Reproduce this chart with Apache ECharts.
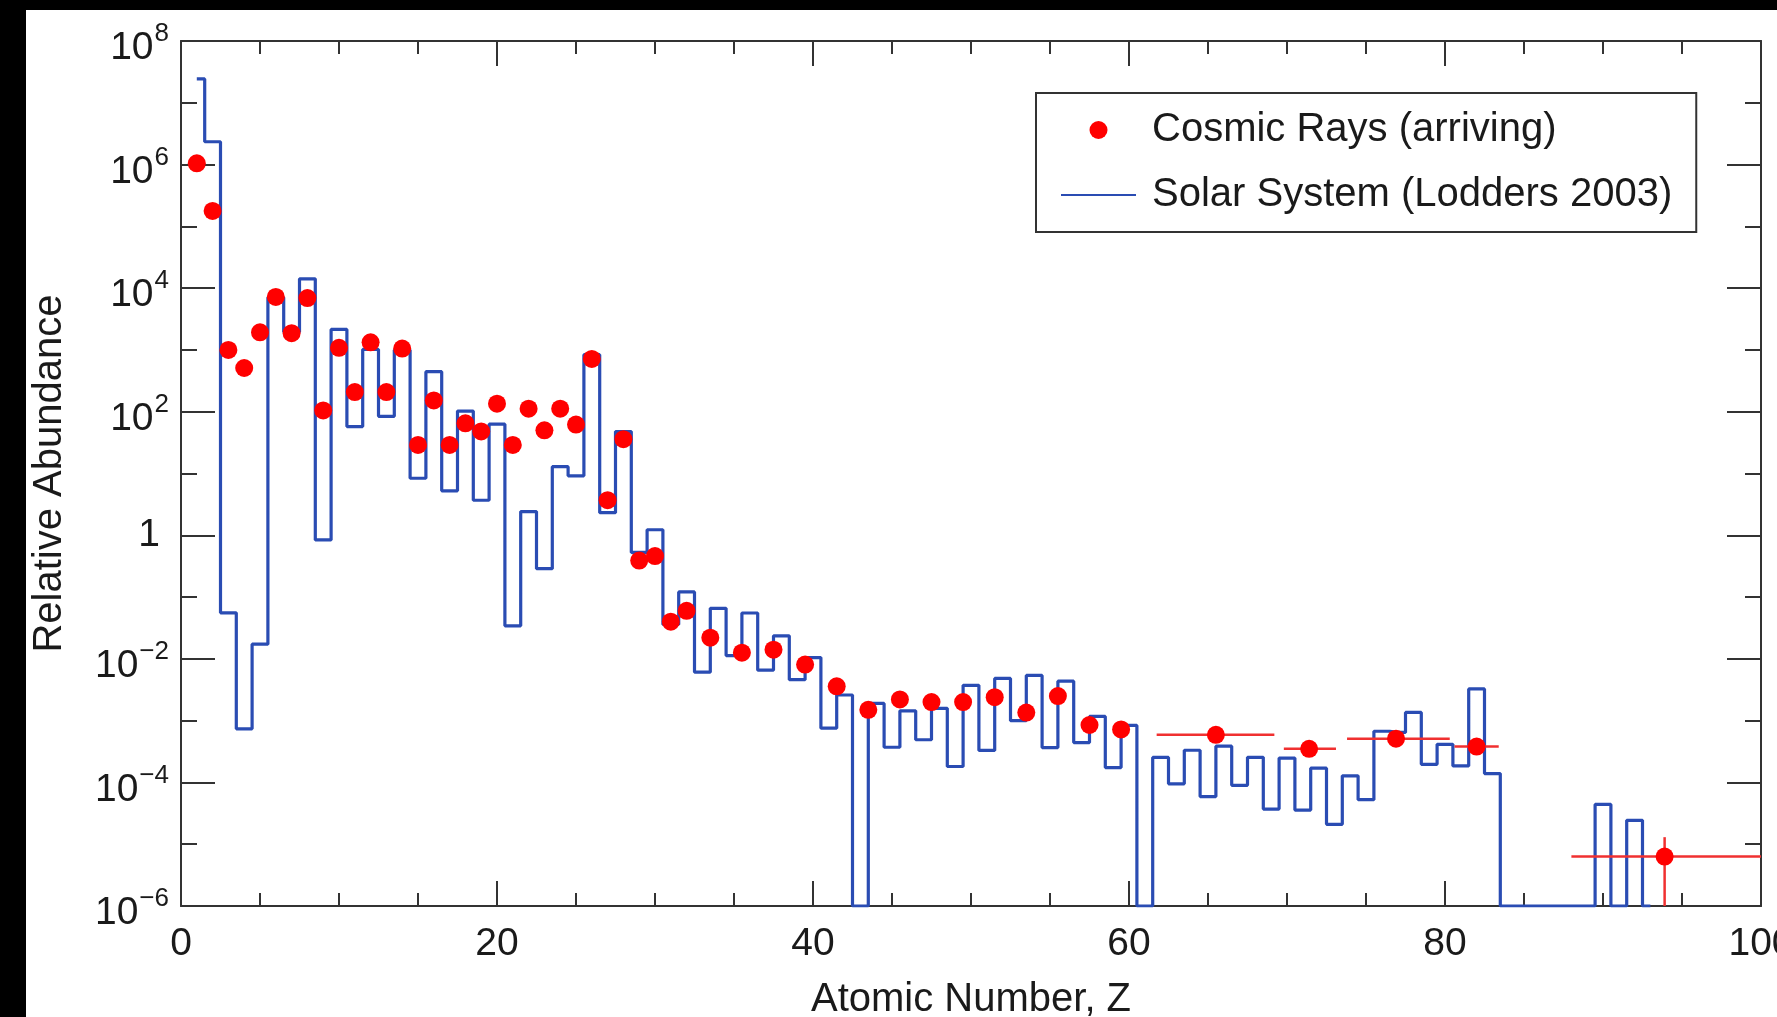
<!DOCTYPE html>
<html>
<head>
<meta charset="utf-8">
<script src="https://cdn.jsdelivr.net/npm/echarts@6/dist/echarts.min.js"></script>
<style>
  html, body { margin: 0; padding: 0; background: #000; width: 1777px; height: 1017px; overflow: hidden; }
  #chart { position: absolute; left: 26px; top: 10px; width: 1751px; height: 1007px; background: #fff; }
</style>
</head>
<body>
<div id="chart"></div>
<script>
// solar system abundances (Lodders 2003), Si = 1000, stepped per element
const solarZ = [
  1, 2, 3, 4, 5, 6, 7, 8, 9, 10, 11, 12, 13, 14, 15, 16, 17, 18, 19, 20,
  21, 22, 23, 24, 25, 26, 27, 28, 29, 30, 31, 32, 33, 34, 35, 36, 37, 38, 39, 40,
  41, 42, 43, 44, 45, 46, 47, 48, 49, 50, 51, 52, 53, 54, 55, 56, 57, 58, 59, 60,
  61, 62, 63, 64, 65, 66, 67, 68, 69, 70, 71, 72, 73, 74, 75, 76, 77, 78, 79, 80,
  81, 82, 83, 84, 85, 86, 87, 88, 89, 90, 91, 92, 93
];
// elements with no abundance sit on the bottom of the axis (1e-6)
const solarAbund = [
  2.43e7, 2.34e6, 0.0555, 7.37e-4, 0.0173, 7079, 1950, 14130, 0.841, 2148,
  57.5, 1020, 84.1, 1000, 8.37, 445, 5.24, 102.5, 3.69, 62.9,
  0.0342, 2.42, 0.288, 12.9, 9.17, 838, 2.32, 47.8, 0.527, 1.23,
  0.036, 0.121, 0.00609, 0.0658, 0.0113, 0.0552, 0.00657, 0.0236, 0.00461, 0.0105,
  7.55e-4, 0.0026, 1e-6, 0.0019, 3.71e-4, 0.00144, 4.91e-4, 0.00158, 1.81e-4, 0.00373,
  3.29e-4, 0.00482, 9.98e-4, 0.00539, 3.67e-4, 0.00435, 4.41e-4, 0.00117, 1.74e-4, 8.36e-4,
  1e-6, 2.54e-4, 9.51e-5, 3.32e-4, 5.91e-5, 3.86e-4, 8.99e-5, 2.55e-4, 3.7e-5, 2.48e-4,
  3.57e-5, 1.7e-4, 2.1e-5, 1.28e-4, 5.25e-5, 6.74e-4, 6.45e-4, 0.00136, 1.96e-4, 4.13e-4,
  1.85e-4, 0.00326, 1.39e-4, 1e-6, 1e-6, 1e-6, 1e-6, 1e-6, 1e-6, 4.4e-5,
  1e-6, 2.44e-5, 1e-6
];

// cosmic rays (arriving)
const crZ = [
  1, 2, 3, 4, 5, 6, 7, 8, 9, 10, 11, 12, 13, 14, 15, 16, 17, 18, 19, 20,
  21, 22, 23, 24, 25, 26, 27, 28, 29, 30, 31, 32,
  33.5, 35.5, 37.5, 39.5, 41.5, 43.5, 45.5, 47.5, 49.5, 51.5, 53.5, 55.5, 57.5, 59.5,
  65.5, 71.4, 76.9, 82.0, 93.9
];
const crAbund = [
  1.05e6, 1.78e5, 1000, 510, 1930, 7200, 1870, 6900, 105, 1080,
  208, 1330, 208, 1050, 29, 152, 29, 65, 48, 135,
  29, 112, 50, 112, 62, 716, 3.7, 36, 0.39, 0.46, 0.040, 0.060,
  0.022, 0.0126, 0.0141, 0.0081, 0.0036, 0.0015, 0.0022, 0.0020, 0.0020, 0.0024,
  0.00135, 0.0025, 8.5e-4, 7.2e-4,
  5.9e-4, 3.5e-4, 5.1e-4, 3.8e-4, 6.3e-6
];
// horizontal error bars (charge ranges)
const crBarFrom = [61.75, 69.8, 73.8, 80.6, 88.0];
const crBarTo = [69.2, 73.1, 80.3, 83.4, 101];
const crBarAbund = [5.9e-4, 3.5e-4, 5.1e-4, 3.8e-4, 6.3e-6];
// vertical error bar on the last point
const crVBarZ = [93.9];
const crVBarLow = [1e-6];
const crVBarHigh = [1.3e-5];

const FONT = 'Liberation Sans';
const AXIS_COLOR = '#333';
const TEXT_COLOR = '#1a1a1a';

function powLabel(value) {
  const e = Math.round(Math.log10(value));
  if (e === 0) return '{one|1}';
  return '{b|10}{s|' + (e < 0 ? '\u2212' + (-e) : e) + '}';
}

const labelRich = {
  b: { fontSize: 39, fontFamily: FONT, color: TEXT_COLOR, padding: [15, 0, 0, 0] },
  s: { fontSize: 26, fontFamily: FONT, color: TEXT_COLOR, padding: [0, 0, 14, 1] },
  one: { fontSize: 39, fontFamily: FONT, color: TEXT_COLOR, padding: [0, 9, 0, 0] }
};

function xAxisOf(pos, withLabel) {
  return {
    type: 'value', position: pos, min: 0, max: 100, interval: 20,
    axisLine: { show: true, onZero: false, lineStyle: { color: AXIS_COLOR, width: 2 } },
    axisTick: { show: true, inside: true, length: 25, lineStyle: { color: AXIS_COLOR, width: 2 } },
    minorTick: { show: true, splitNumber: 4, length: 13, lineStyle: { color: AXIS_COLOR, width: 2 } },
    axisLabel: withLabel ? { show: true, fontSize: 39, fontFamily: FONT, color: TEXT_COLOR, margin: 19 } : { show: false },
    splitLine: { show: false },
    name: withLabel ? 'Atomic Number, Z' : '',
    nameLocation: 'middle', nameGap: 74,
    nameTextStyle: { fontSize: 40, fontFamily: FONT, color: TEXT_COLOR }
  };
}

function yAxisOf(pos, interval, tickLen, withLabel, withLine) {
  return {
    type: 'log', logBase: 10, position: pos, min: 1e-6, max: 1e8, interval: interval,
    axisLine: { show: withLine, lineStyle: { color: AXIS_COLOR, width: 2 } },
    axisTick: { show: true, inside: true, length: tickLen, lineStyle: { color: AXIS_COLOR, width: 2 } },
    axisLabel: withLabel ? { show: true, margin: 12, formatter: powLabel, rich: labelRich } : { show: false },
    splitLine: { show: false },
    name: withLabel ? 'Relative Abundance' : '',
    nameLocation: 'middle', nameGap: 111, nameRotate: 90,
    nameTextStyle: { fontSize: 40, fontFamily: FONT, color: TEXT_COLOR }
  };
}

const chart = echarts.init(document.getElementById('chart'));

const option = {
  animation: false,
  backgroundColor: '#fff',
  grid: { left: 155, right: 16, top: 31, bottom: 111, containLabel: false, outerBoundsMode: 'none' },
  legend: {
    orient: 'vertical', left: 1010, top: 83,
    itemWidth: 75, itemHeight: 18, itemGap: 19,
    padding: [14, 24, 14, 24],
    borderColor: AXIS_COLOR, borderWidth: 2, backgroundColor: '#fff',
    textStyle: { fontSize: 40, fontFamily: FONT, color: TEXT_COLOR, lineHeight: 46, padding: [0, 0, 0, 11] },
    data: [
      { name: 'Cosmic Rays (arriving)', icon: 'circle' },
      { name: 'Solar System (Lodders 2003)', itemStyle: { opacity: 0 } }
    ]
  },
  xAxis: [xAxisOf('bottom', true), xAxisOf('top', false)],
  yAxis: [
    yAxisOf('left', 2, 34, true, true),
    yAxisOf('left', 1, 16, false, false),
    yAxisOf('right', 2, 34, false, true),
    yAxisOf('right', 1, 16, false, false)
  ],
  series: [
    {
      name: 'Solar System (Lodders 2003)',
      type: 'line', step: 'middle',
      data: solarZ.map((z, i) => [z, solarAbund[i]]),
      symbol: 'none',
      lineStyle: { color: '#2a4cb3', width: 3.2 },
      itemStyle: { color: '#2a4cb3' },
      z: 2
    },
    {
      type: 'custom',
      encode: { x: [0, 1], y: 2 },
      data: crBarFrom.map((v, i) => [v, crBarTo[i], crBarAbund[i]]),
      renderItem: function (params, api) {
        const a = api.coord([api.value(0), api.value(2)]);
        const b = api.coord([api.value(1), api.value(2)]);
        return {
          type: 'line',
          shape: { x1: a[0], y1: a[1], x2: b[0], y2: b[1] },
          style: { stroke: '#f03030', lineWidth: 2.5 }
        };
      },
      clip: true, z: 3
    },
    {
      type: 'custom',
      encode: { x: 0, y: [1, 2] },
      data: crVBarZ.map((v, i) => [v, crVBarLow[i], crVBarHigh[i]]),
      renderItem: function (params, api) {
        const a = api.coord([api.value(0), api.value(1)]);
        const b = api.coord([api.value(0), api.value(2)]);
        return {
          type: 'line',
          shape: { x1: a[0], y1: a[1], x2: b[0], y2: b[1] },
          style: { stroke: '#f03030', lineWidth: 2.5 }
        };
      },
      clip: true, z: 3
    },
    {
      name: 'Cosmic Rays (arriving)',
      type: 'scatter',
      data: crZ.map((z, i) => [z, crAbund[i]]),
      symbol: 'circle', symbolSize: 18,
      itemStyle: { color: '#ff0000', opacity: 1 },
      z: 4
    }
  ]
};

chart.setOption(option);
</script>
</body>
</html>
